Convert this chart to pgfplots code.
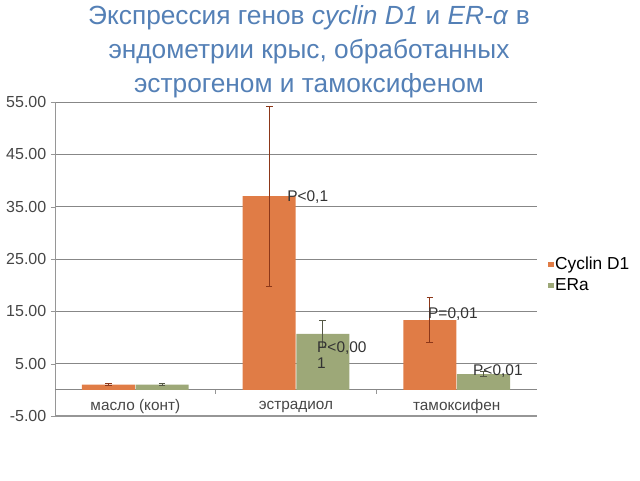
\documentclass[border=0pt]{standalone}
\usepackage{fontspec}
\setmainfont{Liberation Sans}
\usepackage{pgfplots}
\pgfplotsset{compat=1.18}

\definecolor{cyc}{RGB}{224,124,70}
\definecolor{era}{RGB}{157,168,120}
\definecolor{cycerr}{RGB}{140,55,25}
\definecolor{eraerr}{RGB}{85,88,70}
\definecolor{titleblue}{RGB}{84,128,182}
\definecolor{gridgray}{RGB}{135,135,135}
\definecolor{axisgray}{RGB}{150,150,150}
\definecolor{labelgray}{RGB}{70,70,70}

\begin{document}
\begin{tikzpicture}
\path[use as bounding box] (0,0) rectangle (480pt,360pt);

% title, three lines
\begin{scope}[every node/.style={anchor=base, inner sep=0, text=titleblue,
    font=\fontsize{19.7}{22}\selectfont}]
\node at (231.75pt,341.6pt) {Экспрессия генов \textit{cyclin D1} и \textit{ER-α} в};
\node at (231.75pt,316pt) {эндометрии крыс, обработанных};
\node at (231.75pt,290.5pt) {эстрогеном и тамоксифеном};
\end{scope}

\begin{axis}[
  at={(41.25pt,48pt)}, anchor=south west,
  scale only axis, width=361.5pt, height=235.5pt,
  xmin=-0.5, xmax=2.5, ymin=-5, ymax=55,
  axis lines*=left,
  axis line style={draw=axisgray, line width=0.7pt},
  x axis line style={line width=1.6pt},
  ybar,
  ytick={-5,5,...,55},
  ymajorgrids, grid style={gridgray, line width=0.6pt},
  extra y ticks={0}, extra y tick labels={},
  extra y tick style={grid=major, major tick length=0pt},
  tick align=outside, major tick length=3pt,
  y tick style={axisgray},
  /pgf/number format/fixed, /pgf/number format/fixed zerofill,
  /pgf/number format/precision=2,
  /pgf/number format/assume math mode=true,
  yticklabel style={font=\fontsize{12}{14}\selectfont, text=labelgray},
  xtick={0,1,2},
  xticklabels={масло (конт), эстрадиол, тамоксифен},
  x tick style={draw=none},
  xticklabel style={anchor=center, yshift=9.8pt,
    font=\fontsize{11.5}{13}\selectfont, text=labelgray},
  legend style={at={(1.015,0.52)}, anchor=north west, draw=none, fill=none,
    font=\fontsize{13}{15}\selectfont, row sep=2.5pt,
    nodes={inner sep=1.2pt}},
  legend cell align=left,
  legend image code/.code={\fill[#1, draw=none] (0pt,-1.9pt) rectangle (3.8pt,1.9pt);},
]
\addplot[fill=cyc, draw=none, bar width=0.33, bar shift=-0.167,
  error bars/.cd, y dir=both, y explicit,
  error bar style={draw=cycerr, line width=0.6pt},
  error mark options={rotate=90, draw=cycerr, mark size=2.5pt, line width=0.6pt}]
  coordinates {(0,1.0) +- (0,0.2) (1,37.0) +- (0,17.2) (2,13.3) +- (0,4.3)};
\addlegendentry{Cyclin D1}
\addplot[fill=era, draw=none, bar width=0.33, bar shift=0.167,
  error bars/.cd, y dir=both, y explicit,
  error bar style={draw=eraerr, line width=0.6pt},
  error mark options={rotate=90, draw=eraerr, mark size=2.5pt, line width=0.6pt}]
  coordinates {(0,1.0) +- (0,0.2) (1,10.7) +- (0,2.6) (2,3.0) +- (0,0.5)};
\addlegendentry{ERa}

% category boundary ticks
\pgfplotsinvokeforeach{0.5,1.5,2.5}{
  \draw[axisgray, line width=0.6pt] (axis cs:#1,0) -- ([yshift=-3pt]axis cs:#1,0);
}

% significance notes
\begin{scope}[every node/.style={anchor=base west, inner sep=0,
    font=\fontsize{11.6}{13}\selectfont, text=black!80}]
\node at (axis cs:0.944,35.9) {P<0,1};
\node at (axis cs:1.130,7.22) {P<0,00};
\node at (axis cs:1.130,4.17) {1};
\node at (axis cs:1.821,13.7) {P=0,01};
\node at (axis cs:2.101,2.83) {P<0,01};
\end{scope}
\end{axis}
\end{tikzpicture}
\end{document}
